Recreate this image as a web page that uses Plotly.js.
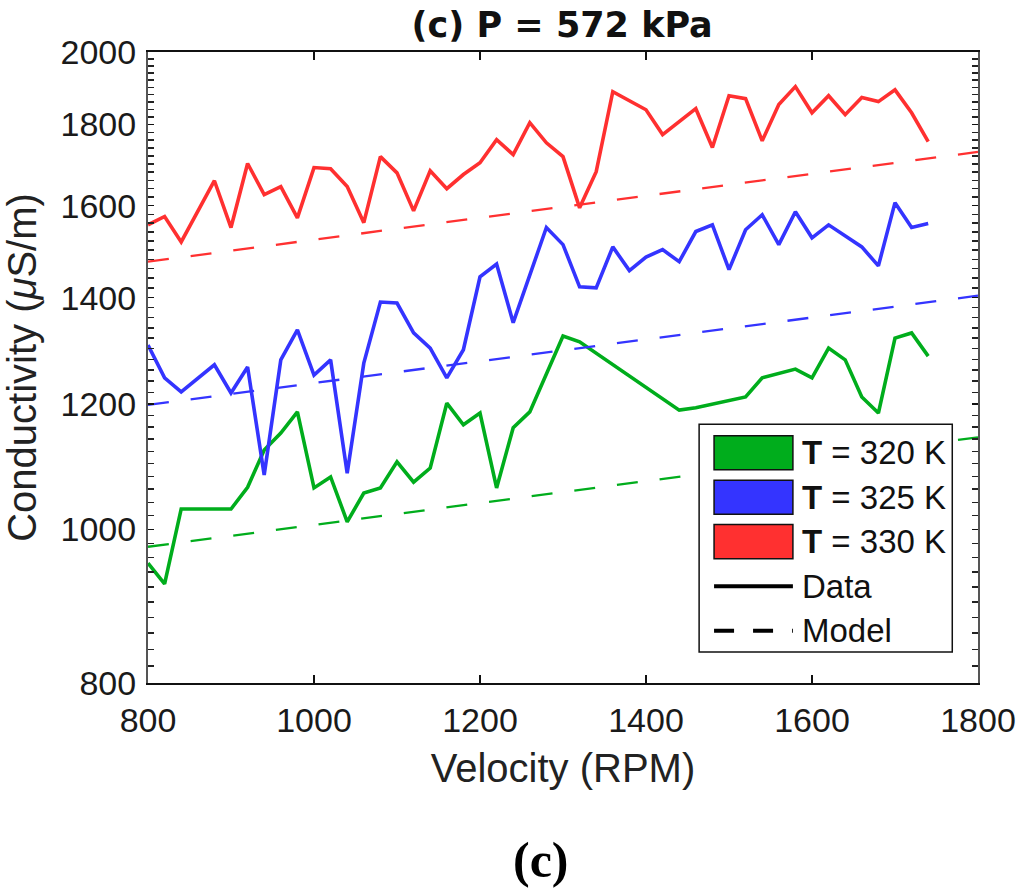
<!DOCTYPE html>
<html>
<head>
<meta charset="utf-8">
<script src="https://cdn.plot.ly/plotly-3.0.1.min.js"></script>
<style>
  body { margin: 0; background: #fff; }
  #chart { width: 1024px; height: 895px; }
</style>
</head>
<body>
<div id="chart"></div>
<script>
// velocity (RPM) and conductivity (uS/m)
var greenX = [800,820,840,900,920,940,960,980,1000,1020,1040,1060,1080,1100,1120,1140,1160,1180,1200,1220,1240,1260,1300,1320,1440,1460,1520,1540,1580,1600,1620,1640,1660,1680,1700,1720,1740];
var greenY = [952,924,1030,1030,1063,1122,1150,1186,1062,1079,1011,1054,1062,1103,1071,1093,1201,1164,1184,1062,1159,1186,1324,1313,1189,1193,1212,1246,1262,1246,1301,1279,1212,1184,1320,1330,1286];

var blueX = [800,820,840,880,900,920,940,960,980,1000,1020,1040,1060,1080,1100,1120,1140,1160,1180,1200,1220,1240,1280,1300,1320,1340,1360,1380,1400,1420,1440,1460,1480,1500,1520,1540,1560,1580,1600,1620,1660,1680,1700,1720,1740];
var blueY = [1307,1246,1221,1270,1219,1266,1082,1279,1336,1251,1279,1085,1273,1391,1389,1330,1301,1246,1298,1443,1470,1350,1550,1512,1422,1420,1507,1456,1485,1501,1475,1541,1556,1458,1545,1579,1512,1586,1527,1556,1507,1466,1607,1550,1559];

var redX = [800,820,840,880,900,920,940,960,980,1000,1020,1040,1060,1080,1100,1120,1140,1160,1180,1200,1220,1240,1260,1280,1300,1320,1340,1360,1400,1420,1460,1480,1500,1520,1540,1560,1580,1600,1620,1640,1660,1680,1700,1720,1740];
var redY = [1556,1575,1518,1659,1550,1701,1626,1645,1572,1691,1688,1645,1561,1718,1678,1588,1683,1640,1674,1703,1761,1723,1805,1753,1718,1595,1681,1888,1839,1774,1842,1741,1877,1869,1758,1853,1902,1831,1877,1826,1872,1861,1893,1831,1756];

// model lines
var modelX = [800, 1800];
var greenModel = [975, 1143];
var blueModel = [1198, 1404];
var redModel = [1475, 1730];

var xTicks = [800, 1000, 1200, 1400, 1600, 1800];
var yTicks = [800, 1000, 1200, 1400, 1600, 1800, 2000];
var legendNames = ['<b>T</b> = 320 K', '<b>T</b> = 325 K', '<b>T</b> = 330 K'];
var colors = ['#00ad1c', '#3434ff', '#ff3030'];

var yMinor = [];
for (var v = 820; v < 2000; v += 20) {
    if (yTicks.indexOf(v) < 0) yMinor.push(v);
}

var dataWidth = 3.6;
var modelWidth = 2.3;
var modelDash = '21px,22px';

var series = [
    {x: greenX, y: greenY, m: greenModel},
    {x: blueX, y: blueY, m: blueModel},
    {x: redX, y: redY, m: redModel}
];

var traces = [];
series.forEach(function(s, i) {
    traces.push({
        x: modelX, y: s.m, mode: 'lines', showlegend: false, hoverinfo: 'skip',
        line: {color: colors[i], width: modelWidth, dash: modelDash}
    });
    traces.push({
        x: s.x, y: s.y, mode: 'lines', showlegend: false,
        line: {color: colors[i], width: dataWidth}
    });
});

// legend box drawn by hand (patches like the original figure)
var legFont = {family: 'Liberation Sans, Arial, sans-serif', size: 33, color: '#111'};
var legX0 = 0.664, legX1 = 0.969, legTop = 0.41, legBottom = 0.049;
var symX0 = 0.682, symX1 = 0.777, textX = 0.786;
var rowTop = 0.365, rowStep = 0.0705, patchH = 0.054;

var shapes = [{
    type: 'rect', xref: 'paper', yref: 'paper',
    x0: legX0, x1: legX1, y0: legBottom, y1: legTop,
    fillcolor: '#fff', line: {color: '#111', width: 1.5}, layer: 'above'
}];
var annotations = [];

var legendRows = legendNames.concat(['Data', 'Model']);
legendRows.forEach(function(name, i) {
    var yc = rowTop - i * rowStep;
    if (i < 3) {
        shapes.push({
            type: 'rect', xref: 'paper', yref: 'paper',
            x0: symX0, x1: symX1, y0: yc - patchH / 2, y1: yc + patchH / 2,
            fillcolor: colors[i], line: {color: '#111', width: 1.5}, layer: 'above'
        });
    } else {
        shapes.push({
            type: 'line', xref: 'paper', yref: 'paper',
            x0: symX0, x1: symX1, y0: yc, y1: yc,
            line: {color: '#000', width: 4, dash: i === 4 ? '20px,19px' : 'solid'},
            layer: 'above'
        });
    }
    annotations.push({
        text: name, xref: 'paper', yref: 'paper', x: textX, y: yc,
        xanchor: 'left', yanchor: 'middle', showarrow: false, font: legFont
    });
});

annotations.push({
    text: '<b>(c)</b>', xref: 'paper', yref: 'paper',
    x: 0.473, y: -0.28, xanchor: 'center', yanchor: 'middle', showarrow: false,
    font: {family: 'Liberation Serif, Times New Roman, serif', size: 50, color: '#000'}
});

var tickFont = {family: 'Liberation Sans, Arial, sans-serif', size: 34, color: '#1a1a1a'};

var layout = {
    width: 1024, height: 895,
    margin: {l: 148, r: 46, t: 52, b: 212},
    paper_bgcolor: '#fff', plot_bgcolor: '#fff',
    showlegend: false,
    title: {
        text: '<b>(c) P = 572 kPa</b>',
        font: {family: 'DejaVu Sans, sans-serif', size: 35, color: '#111'},
        x: 0.549, xanchor: 'center', y: 0.972, yanchor: 'middle'
    },
    xaxis: {
        range: [800, 1800],
        tickvals: xTicks, ticktext: xTicks.map(String),
        ticks: 'inside', ticklen: 8, tickwidth: 1.5, tickcolor: '#111',
        showline: true, linecolor: '#111', linewidth: 2, mirror: 'ticks',
        showgrid: false, zeroline: false,
        tickfont: tickFont, ticklabelstandoff: 6,
        title: {text: 'Velocity (RPM)', standoff: 16,
            font: {family: 'Liberation Sans, Arial, sans-serif', size: 40, color: '#222'}}
    },
    yaxis: {
        type: 'log',
        range: [Math.log10(800), Math.log10(2000)],
        tickvals: yTicks, ticktext: yTicks.map(String),
        ticks: 'inside', ticklen: 6, tickwidth: 1.5, tickcolor: '#111',
        minor: {tickmode: 'array', tickvals: yMinor, ticks: 'inside', ticklen: 6,
            tickwidth: 1.5, tickcolor: '#222', showgrid: false},
        showline: true, linecolor: '#555', linewidth: 2, mirror: 'ticks',
        showgrid: false, zeroline: false,
        tickfont: tickFont, ticklabelstandoff: 3,
        title: {text: 'Conductivity (<i>μ</i>S/m)', standoff: 12,
            font: {family: 'Liberation Sans, Arial, sans-serif', size: 40, color: '#222'}}
    },
    shapes: shapes,
    annotations: annotations
};

Plotly.newPlot('chart', traces, layout, {displayModeBar: false, staticPlot: true});
</script>
</body>
</html>
